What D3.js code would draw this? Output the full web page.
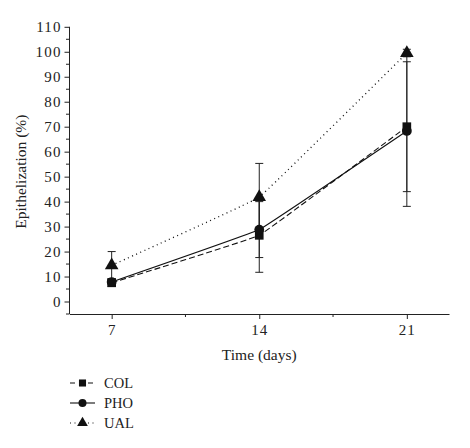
<!DOCTYPE html>
<html><head><meta charset="utf-8">
<script src="https://cdn.jsdelivr.net/npm/d3@7"></script>
<style>body{margin:0;background:#fff}svg{display:block}text{font-family:"Liberation Serif","DejaVu Serif",serif;fill:#222}</style>
</head><body><svg id="c" width="470" height="448"></svg>
<script>
const days = [7, 14, 21];
const seriesNames = ["COL", "PHO", "UAL"];
const colMean = [7.5, 26.5, 70];
const colErr = [1.5, 14.8, 26];
const phoMean = [7.8, 28.8, 68.3];
const phoErr = [1.2, 11.2, 30.2];
const ualMean = [14.5, 41.8, 99.5];
const ualErr = [5.5, 13.5, 1.5];
const xTicks = [7, 14, 21];
const yTicks = [0, 10, 20, 30, 40, 50, 60, 70, 80, 90, 100, 110];

const svg = d3.select("#c");
const x = d3.scaleLinear().domain([5, 23]).range([69.5, 449]);
const y = d3.scaleLinear().domain([-5, 110]).range([314, 26.8]);

const series = [
  {name: "COL", mean: colMean, err: colErr, dash: "6,3", sym: d3.symbolSquare},
  {name: "PHO", mean: phoMean, err: phoErr, dash: null, sym: d3.symbolCircle},
  {name: "UAL", mean: ualMean, err: ualErr, dash: "1,3.5", sym: d3.symbolTriangle}
];

// axes
const yAxis = d3.axisLeft(y).tickValues(yTicks).tickSize(5).tickSizeOuter(0).tickPadding(4);
const gy = svg.append("g").attr("transform", "translate(69.5,0)").call(yAxis);
gy.select(".domain").attr("d", `M0,${y(110)}V${y(-5)}`);
gy.selectAll(".tick text").style("font-size", "15px").style("letter-spacing", "1.2px").attr("dx", "1.2px").attr("fill", "#222");
gy.selectAll(".tick line").attr("stroke", "#222");
gy.select(".domain").attr("stroke", "#222");
const yMinor = d3.range(-5, 110, 10);
svg.append("g").selectAll("line").data(yMinor).join("line")
  .attr("x1", 69.5).attr("x2", 66).attr("y1", d => y(d)).attr("y2", d => y(d)).attr("stroke", "#222");

const xAxis = d3.axisBottom(x).tickValues(xTicks).tickSize(5).tickSizeOuter(0).tickPadding(5).tickFormat(d3.format("d"));
const gx = svg.append("g").attr("transform", `translate(0,${y(-5)})`).call(xAxis);
gx.selectAll(".tick text").style("font-size", "15px").style("letter-spacing", "1px").attr("fill", "#222");
gx.selectAll(".tick line").attr("stroke", "#222");
gx.select(".domain").attr("stroke", "#222");
svg.append("g").selectAll("line").data([10.5, 17.5]).join("line")
  .attr("x1", d => x(d)).attr("x2", d => x(d)).attr("y1", y(-5)).attr("y2", y(-5) + 3).attr("stroke", "#222");

svg.append("text").attr("x", x(14)).attr("y", 360).attr("text-anchor", "middle").style("font-size", "15.5px").text("Time (days)");
svg.append("text").attr("transform", `translate(26,${y(52)}) rotate(-90)`).attr("text-anchor", "middle").style("font-size", "15.5px").text("Epithelization (%)");

// error bars
series.forEach(s => {
  const g = svg.append("g").attr("stroke", "#222").attr("stroke-width", 1);
  days.forEach((d, i) => {
    const lo = s.mean[i] - s.err[i], hi = s.mean[i] + s.err[i];
    g.append("line").attr("x1", x(d)).attr("x2", x(d)).attr("y1", y(lo)).attr("y2", y(hi));
    [lo, hi].forEach(v => g.append("line").attr("x1", x(d) - 4).attr("x2", x(d) + 4).attr("y1", y(v)).attr("y2", y(v)));
  });
});

// lines
const line = d3.line().x((d, i) => x(days[i])).y(d => y(d)).curve(d3.curveCardinal.tension(0.85));
series.forEach(s => {
  svg.append("path").attr("d", line(s.mean)).attr("fill", "none").attr("stroke", "#111")
    .attr("stroke-width", s.name === "UAL" ? 1.3 : 1.1).attr("stroke-dasharray", s.dash);
});
// markers
series.forEach(s => {
  svg.append("g").selectAll("path").data(s.mean).join("path")
    .attr("transform", (d, i) => `translate(${x(days[i])},${y(d)})`)
    .attr("d", d3.symbol().type(s.sym).size(s.sym === d3.symbolTriangle ? 80 : 75)).attr("fill", "#111");
});

// legend
const leg = svg.append("g");
series.forEach((s, i) => {
  const yy = 383 + i * 20;
  leg.append("line").attr("x1", 70).attr("x2", 95).attr("y1", yy).attr("y2", yy).attr("stroke", "#111")
    .attr("stroke-width", 1.1).attr("stroke-dasharray", s.name === "COL" ? "5,4" : s.dash);
  leg.append("path").attr("transform", `translate(82.5,${yy})`).attr("d", d3.symbol().type(s.sym).size(50)).attr("fill", "#111");
  leg.append("text").attr("x", 104).attr("y", yy + 5).style("font-size", "14.5px").text(seriesNames[i]);
});
</script></body></html>
